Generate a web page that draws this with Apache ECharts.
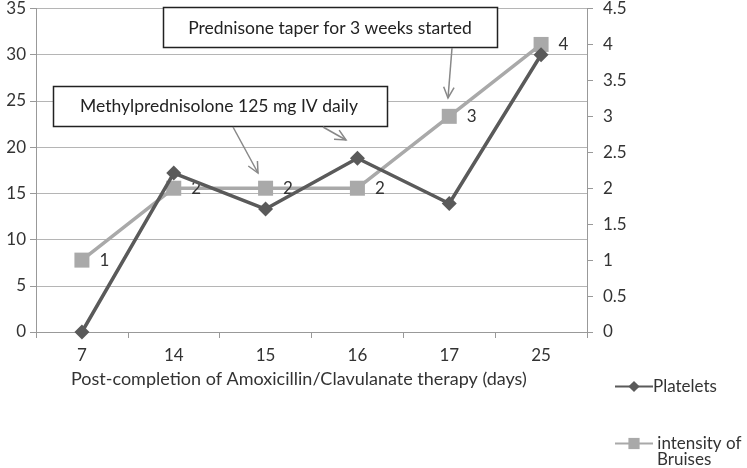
<!DOCTYPE html>
<html>
<head>
<meta charset="utf-8">
<script src="https://cdn.jsdelivr.net/npm/echarts@6/dist/echarts.min.js"></script>
<style>html,body{margin:0;padding:0;background:#fff}#c{width:747px;height:468px}</style>
</head>
<body>
<div id="c"></div>
<script>
var categories = ['7', '14', '15', '16', '17', '25'];
var platelets = [0, 17.2, 13.3, 18.8, 13.9, 30.0];
var bruises = [1, 2, 2, 2, 3, 4];
var xAxisTitle = 'Post-completion of Amoxicillin/Clavulanate therapy (days)';
var note1 = 'Prednisone taper for 3 weeks started';
var note2 = 'Methylprednisolone 125 mg IV daily';

var FONT = 'Lato';
var TXT = '#333';
var AX = '#999';
var chart = echarts.init(document.getElementById('c'));

function arrow(x1, y1, x2, y2) {
  var ang = Math.atan2(y2 - y1, x2 - x1);
  var L = 12, a = 0.45;
  var p1 = [x2 - L * Math.cos(ang - a), y2 - L * Math.sin(ang - a)];
  var p2 = [x2 - L * Math.cos(ang + a), y2 - L * Math.sin(ang + a)];
  return [
    {type: 'line', shape: {x1: x1, y1: y1, x2: x2, y2: y2}, style: {stroke: '#888', lineWidth: 1.5}, z: 100},
    {type: 'polyline', shape: {points: [p1, [x2, y2], p2]}, style: {stroke: '#888', lineWidth: 1.5, fill: null}, z: 100}
  ];
}

var graphics = [
  {type: 'rect', shape: {x: 163.5, y: 7.5, width: 334, height: 40}, style: {fill: '#fff', stroke: '#222', lineWidth: 1.5}, z: 100},
  {type: 'text', x: 330, y: 28, style: {text: note1, font: '17.5px ' + FONT, fill: '#222', align: 'center', verticalAlign: 'middle'}, z: 101},
  {type: 'rect', shape: {x: 53.5, y: 86.5, width: 334, height: 40}, style: {fill: '#fff', stroke: '#222', lineWidth: 1.5}, z: 100},
  {type: 'text', x: 219, y: 106, style: {text: note2, font: '17.5px ' + FONT, fill: '#222', align: 'center', verticalAlign: 'middle'}, z: 101},
  {type: 'text', x: 657, y: 460, style: {text: 'Bruises', font: '17px ' + FONT, fill: TXT, align: 'left', verticalAlign: 'middle'}, z: 101}
].concat(arrow(233, 127, 258, 173)).concat(arrow(323, 127, 346, 140)).concat(arrow(452, 48, 448, 98));

chart.setOption({
  animation: false,
  textStyle: {fontFamily: FONT},
  grid: {left: 36, right: 160, top: 8, bottom: 136},
  title: {text: xAxisTitle, left: 71, top: 370, padding: 0, textStyle: {fontFamily: FONT, fontSize: 18, fontWeight: 'normal', color: TXT}},
  legend: {
    orient: 'vertical', left: 614, top: 378, padding: 0, itemWidth: 38, itemHeight: 14, itemGap: 40,
    data: ['Platelets', 'intensity of Bruises'],
    formatter: function (n) { return n === 'intensity of Bruises' ? ' intensity of' : n; },
    textStyle: {fontFamily: FONT, fontSize: 17, color: TXT, padding: [0, 0, 0, -5]}
  },
  xAxis: {
    type: 'category', data: categories, boundaryGap: true,
    axisLine: {lineStyle: {color: AX, width: 1}},
    axisTick: {show: true, length: 6, lineStyle: {color: AX}},
    axisLabel: {fontSize: 17, color: TXT, margin: 15, fontFamily: FONT}
  },
  yAxis: [
    {
      type: 'value', min: 0, max: 35, interval: 5, position: 'left',
      axisLine: {show: true, lineStyle: {color: AX}},
      axisTick: {show: true, length: 6, lineStyle: {color: AX}},
      axisLabel: {fontSize: 17, color: TXT, margin: 10, fontFamily: FONT},
      splitLine: {show: true, lineStyle: {color: '#b5b5b5', width: 1.2}}
    },
    {
      type: 'value', min: 0, max: 4.5, interval: 0.5, position: 'right',
      axisLine: {show: true, lineStyle: {color: AX}},
      axisTick: {show: true, length: 6, lineStyle: {color: AX}},
      axisLabel: {fontSize: 17, color: TXT, margin: 16, fontFamily: FONT},
      splitLine: {show: false}
    }
  ],
  series: [
    {
      name: 'Platelets', type: 'line', yAxisIndex: 0, data: platelets,
      symbol: 'diamond', symbolSize: 15,
      lineStyle: {color: '#5a5a5a', width: 3.5},
      itemStyle: {color: '#5a5a5a'}, z: 3
    },
    {
      name: 'intensity of Bruises', type: 'line', yAxisIndex: 1, data: bruises,
      symbol: 'rect', symbolSize: 15,
      lineStyle: {color: '#a9a9a9', width: 3.5},
      itemStyle: {color: '#a9a9a9'}, z: 2,
      label: {show: true, position: 'right', distance: 10, fontSize: 17, color: TXT, fontFamily: FONT}
    }
  ],
  graphic: graphics
});
</script>
</body>
</html>
